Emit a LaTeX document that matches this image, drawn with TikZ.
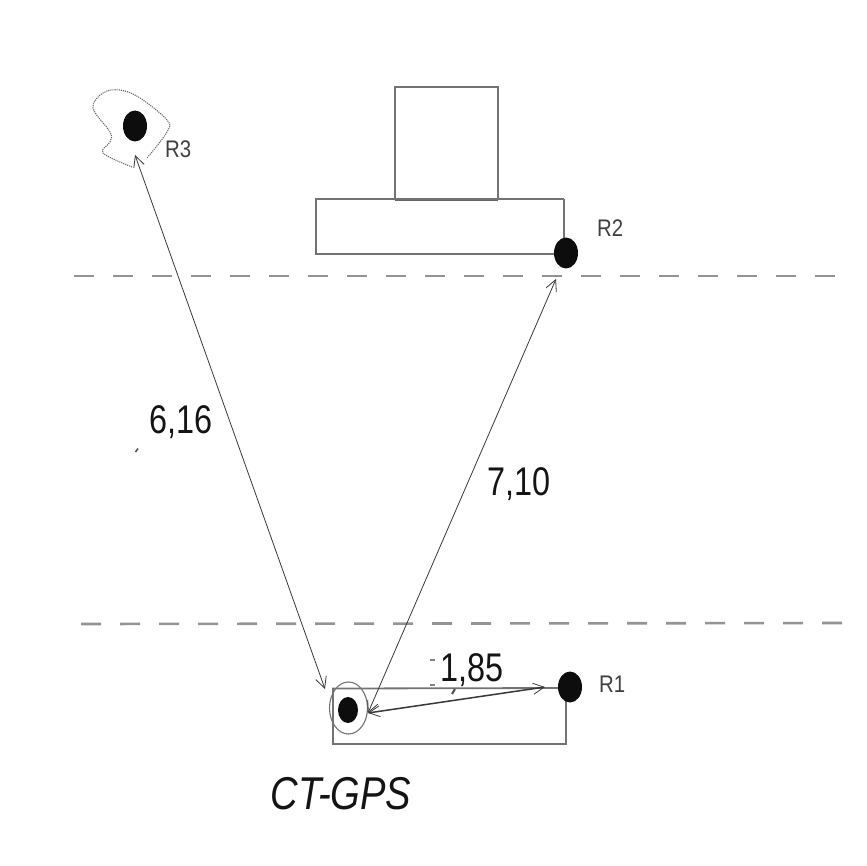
\documentclass[tikz,border=0pt]{standalone}
\usepackage{fontspec}
\setmainfont{Liberation Sans}
\usetikzlibrary{arrows.meta,shapes.geometric}
\tikzset{
 gl/.style={draw=black!55,line width=1.8pt},
 gd/.style={draw=black!42,line width=2.6pt,dash pattern=on 20pt off 19pt},
 dot/.style={ellipse,fill=black!95,inner sep=0pt},
 con/.style={draw=black!78,line width=.8pt,{Straight Barb[length=11pt,width=11pt,line width=.8pt]}-{Straight Barb[length=11pt,width=11pt,line width=.8pt]}},
 big/.style={font=\fontsize{40}{44}\selectfont\addfontfeature{FakeStretch=.81},text=black!92,inner sep=0pt},
 small/.style={font=\fontsize{24}{26}\selectfont\addfontfeature{FakeStretch=.85},text=black!75,inner sep=0pt},
 speck/.style={draw=black!70,line width=1.5pt}
}
\begin{document}
\begin{tikzpicture}[x=1pt,y=-1pt]
\useasboundingbox (0,0) rectangle (866,866);
% boxes
\draw[gl] (395,199) rectangle (498,87);
\draw[draw=black!60,line width=2.4pt] (395,199.5) -- (498,199.5);
\draw[gl] (564,199) -- (316,199) -- (316,254) -- (566,254);
\draw[gl] (564,199) -- (564,254);
\draw[gl] (570,688) -- (333,688.5) -- (333,744) -- (566,744) -- (566,687);
% dashed
\draw[gd] (74,276) -- (840,276);
\draw[gd] (81,624) -- (850,623);
% blob
\draw[draw=black!60,line width=1.1pt,densely dotted] plot[smooth,tension=.6] coordinates
 {(132,167) (103,153) (110,142) (110,132) (93,108) (103,93) (120,90) (140,98) (167,120) (167,132) (147,158)};
% dots
\node[dot,minimum width=24pt,minimum height=31pt] (r3) at (135,126) {};
\node[dot,minimum width=24pt,minimum height=31pt] (r2) at (566,253) {};
\node[dot,minimum width=24pt,minimum height=31pt] (r1) at (570,687) {};
\node[dot,minimum width=20pt,minimum height=26pt] (ct) at (348,710) {};
\draw[draw=black!55,line width=1.1pt] (348.5,708) ellipse (19 and 26);
\coordinate (a3) at (135,155);
\coordinate (ac1) at (325,689);
\coordinate (a2) at (556,279);
\coordinate (ac2) at (368,713);
\coordinate (a1) at (545,687);
\coordinate (ac3) at (368,713);
\draw[con] (a3) -- (ac1);
\draw[con] (a2) -- (ac2);
\draw[con,line width=1.5pt] (a1) -- (ac3);
% specks
\draw[speck] (135.5,452) -- (138,448.5);
\draw[speck,line width=2pt] (452,694) -- (455,689);
\draw[speck,draw=black!50] (430,660) -- (435,660);
\draw[speck,draw=black!50] (430,685) -- (435,685);
% labels
\node[small,anchor=west] (l3) at (165,149) {R3};
\node[small,anchor=west] (l2) at (597,228) {R2};
\node[small,anchor=west] (l1) at (599,684) {R1};
\node[big] (t616) at (181,422) {6,16};
\node[big] (t710) at (519,484) {7,10};
\node[big] (t185) at (472,670) {1,85};
\node[font=\fontsize{46}{50}\selectfont\itshape\addfontfeature{FakeStretch=.83},text=black!92,inner sep=0pt] (ctg) at (341,794) {CT-GPS};
\end{tikzpicture}
\end{document}
